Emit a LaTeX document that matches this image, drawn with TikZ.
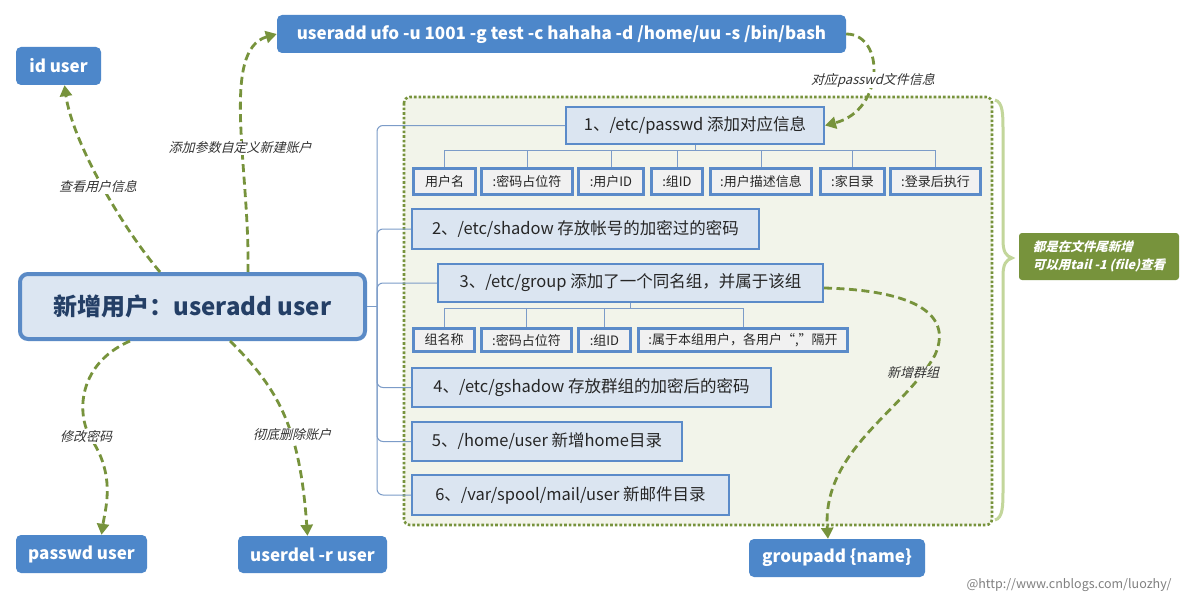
\documentclass[tikz,border=0pt]{standalone}
\usepackage{fontspec}
\setmainfont{Noto Sans CJK SC}
\newfontfamily\itfont[FakeSlant=0.25]{Noto Sans CJK SC}
\usetikzlibrary{arrows.meta,calc}
\definecolor{cblue}{HTML}{4D87CA}
\definecolor{mainfill}{HTML}{DCE6F2}
\definecolor{mainborder}{HTML}{5A8AC6}
\definecolor{maintext}{HTML}{243F66}
\definecolor{boxfill}{HTML}{DBE5F1}
\definecolor{boxborder}{HTML}{5B8BC9}
\definecolor{subfill}{HTML}{F1F1F1}
\definecolor{treec}{HTML}{7C9CC8}
\definecolor{olive}{HTML}{77933C}
\definecolor{contfill}{HTML}{F2F4EA}
\definecolor{bracec}{HTML}{C3D69B}
\definecolor{lblc}{HTML}{333333}
\begin{document}
\begin{tikzpicture}[x=1pt,y=-1pt,
  bluenode/.style={fill=cblue, rounded corners=5, text=white, inner sep=0pt,
    font=\bfseries\fontsize{17}{20}\selectfont},
  mainnode/.style={fill=mainfill, draw=mainborder, line width=4pt, rounded corners=8,
    text=maintext, inner sep=0pt, font=\bfseries\fontsize{24}{28}\selectfont},
  filebox/.style={fill=boxfill, draw=boxborder, line width=2pt, inner sep=0pt,
    text=black!85, font=\fontsize{16.5}{19}\selectfont},
  subbox/.style={fill=subfill, draw=boxborder, line width=3pt, inner sep=0pt,
    text=black!85, font=\fontsize{13}{15}\selectfont},
  tree/.style={draw=treec, line width=1pt},
  garrow/.style={draw=olive, line width=2.8pt, dash pattern=on 8pt off 4.5pt,
    -{Triangle[length=11pt,width=12pt]}},
  lbl/.style={text=lblc, inner sep=1pt, font=\itfont\fontsize{13}{15}\selectfont},
]
\useasboundingbox (0,0) rectangle (1195,594);
\fill[white] (0,0) rectangle (1195,594);

% container
\draw[fill=contfill, draw=olive, line width=2.6pt, dotted, rounded corners=6] (404,97) rectangle (992,525);

% brace
\draw[bracec, line width=3pt] (995,100) .. controls (1003,102) and (1003,115) .. (1003,130)
  -- (1003,240) .. controls (1003,252) and (1006,256) .. (1012,258)
  .. controls (1006,260) and (1003,264) .. (1003,276)
  -- (1003,490) .. controls (1003,505) and (1003,518) .. (995,520);

% note
\node[fill=olive, rounded corners=3, text=white, inner sep=0pt, minimum width=160, minimum height=47,
  align=left, font=\itfont\bfseries\fontsize{12.5}{18}\selectfont] (note) at (1099,256.5)
  {都是在文件尾新增\\可以用tail -1 (file)查看};

% blue command nodes
\node[bluenode, minimum width=569, minimum height=38] (ua) at (561.5,34)
  {useradd ufo -u 1001 -g test -c hahaha -d /home/uu -s /bin/bash};
\node[bluenode, minimum width=85, minimum height=38] (idu) at (58.5,66) {id user};
\node[bluenode, minimum width=131, minimum height=38] (pw) at (81.5,554) {passwd user};
\node[bluenode, minimum width=149, minimum height=37] (ud) at (312.5,554.5) {userdel -r user};
\node[bluenode, minimum width=176, minimum height=38] (ga) at (837,558) {groupadd \{name\}};

% main node
\node[mainnode, minimum width=345, minimum height=65] (main) at (192.5,306.5) {新增用户：useradd user};

% file boxes
\node[filebox, minimum width=258, minimum height=37] (b1) at (695,125.5) {1、/etc/passwd 添加对应信息};
\node[filebox, minimum width=347, minimum height=40] (b2) at (585.5,229) {2、/etc/shadow 存放帐号的加密过的密码};
\node[filebox, minimum width=385, minimum height=38] (b3) at (630.5,283) {3、/etc/group 添加了一个同名组，并属于该组};
\node[filebox, minimum width=359, minimum height=39] (b4) at (591.5,387.5) {4、/etc/gshadow 存放群组的加密后的密码};
\node[filebox, minimum width=270, minimum height=39] (b5) at (547,441.5) {5、/home/user 新增home目录};
\node[filebox, minimum width=317, minimum height=40] (b6) at (570.5,495) {6、/var/spool/mail/user 新邮件目录};

% passwd fields
\node[subbox, minimum width=62, minimum height=26] (s1) at (444.5,181.5) {用户名};
\node[subbox, minimum width=91, minimum height=26] (s2) at (527,181.5) {:密码占位符};
\node[subbox, minimum width=65, minimum height=26] (s3) at (611,181.5) {:用户ID};
\node[subbox, minimum width=51, minimum height=26] (s4) at (677,181.5) {:组ID};
\node[subbox, minimum width=101, minimum height=26] (s5) at (761,181.5) {:用户描述信息};
\node[subbox, minimum width=64, minimum height=26] (s6) at (852.5,181.5) {:家目录};
\node[subbox, minimum width=90, minimum height=26] (s7) at (935.5,181.5) {:登录后执行};

% group fields
\node[subbox, minimum width=61, minimum height=23] (g1) at (444,340) {组名称};
\node[subbox, minimum width=90, minimum height=23] (g2) at (526.5,340) {:密码占位符};
\node[subbox, minimum width=52, minimum height=23] (g3) at (604.5,340) {:组ID};
\node[subbox, minimum width=209, minimum height=23] (g4) at (743,340) {:属于本组用户，各用户“,”隔开};

% tree connectors
\coordinate (trunk) at (377,306.5);
\draw[tree] (main.east) -- (trunk);
\foreach \b in {b1,b2,b3,b4,b5,b6}
  \draw[tree, rounded corners=6] (\b.west) -| (trunk);
\coordinate (bus1) at (695,150);
\draw[tree] (b1.south) -- (bus1);
\foreach \s in {s1,s2,s3,s4,s5,s6,s7}
  \draw[tree] (\s.north) |- (bus1);
\coordinate (bus2) at (630.5,308);
\draw[tree] (b3.south) -- (bus2);
\foreach \s in {g1,g2,g3,g4}
  \draw[tree] (\s.north) |- (bus2);

% dashed green arrows
\draw[garrow] ([xshift=-32.5pt]main.north) .. controls (120,225) and (72,140) .. ([xshift=6pt]idu.south);
\draw[garrow] ([xshift=55.5pt]main.north) .. controls (250,170) and (220,50) .. (ua.west);
\draw[garrow] (ua.east) .. controls (885,34) and (885,110) .. (b1.east);
\draw[garrow] ([xshift=-62.5pt]main.south) .. controls (75,365) and (75,420) .. (95,445)
  .. controls (115,480) and (105,510) .. ([xshift=20pt]pw.north);
\draw[garrow] ([xshift=37.5pt]main.south) .. controls (280,390) and (300,430) .. ([xshift=-5pt]ud.north);
\draw[garrow] ([yshift=-5pt]b3.east) .. controls (905,290) and (955,310) .. (935,355)
  .. controls (905,410) and (822,450) .. ([xshift=-9pt]ga.north);

% labels
\node[lbl, fill=white] (l1) at (98,187) {查看用户信息};
\node[lbl, fill=white] (l2) at (240,148) {添加参数自定义新建账户};
\node[lbl, fill=white] (l3) at (873,80) {对应passwd文件信息};
\node[lbl, fill=white] (l4) at (86,437) {修改密码};
\node[lbl, fill=white] (l5) at (292,435) {彻底删除账户};
\node[lbl, fill=contfill] (l6) at (913,373) {新增群组};

% watermark
\node[text=black!50, inner sep=0pt, font=\fontsize{12.5}{15}\selectfont] (wm) at (1069,585) {@http://www.cnblogs.com/luozhy/};
\end{tikzpicture}
\end{document}
